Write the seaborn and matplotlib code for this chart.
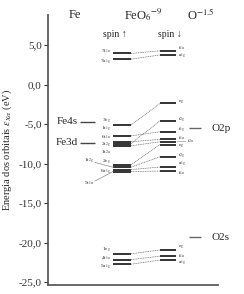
import matplotlib
matplotlib.use("Agg")
import matplotlib.pyplot as plt
import seaborn as sns
import pandas as pd
import numpy as np
from matplotlib.ticker import FuncFormatter

# ---------------- data ----------------
atomic_names = ["Fe4s", "Fe3d"]
atomic_E = [-4.7, -7.36]
oxygen_names = ["O2p", "O2s"]
oxygen_E = [-5.5, -19.3]

up_labels = ["7t$_{1u}$", "7a$_{1g}$",
             "3e$_g$", "1t$_{1g}$", "6t$_{1u}$", "2t$_{2g}$", "1t$_{2u}$",
             "2e$_g$", "1t$_{2g}$", "6a$_{1g}$", "5t$_{1u}$",
             "1e$_g$", "4t$_{1u}$", "5a$_{1g}$"]
up_E = [3.94, 3.22,
        -5.12, -6.49, -7.23, -7.46, -7.75,
        -10.15, -10.45, -10.75, -11.0,
        -21.4, -22.14, -22.72]

down_labels = ["t$_{1u}$", "a$_{1g}$",
               "e$_g$", "t$_{2g}$", "t$_{1g}$", "t$_{1u}$", "t$_{2u}$", "e$_g$",
               "t$_{2g}$", "a$_{1g}$", "t$_{1u}$",
               "e$_g$", "t$_{1u}$", "a$_{1g}$"]
down_E = [4.27, 3.75,
          -2.38, -4.59, -5.97, -6.93, -7.23, -7.59,
          -9.13, -10.43, -10.94,
          -20.92, -21.7, -22.2]

# connections: index of spin-up level -> index of spin-down level
links_up = [0, 1, 2, 3, 4, 5, 6, 7, 8, 9, 10, 11, 12, 13]
links_dn = [0, 1, 2, 4, 5, 3, 6, 7, 8, 9, 10, 11, 12, 13]

yticks = [5.0, 0.0, -5.0, -10.0, -15.0, -20.0, -25.0]

# ---------------- style ----------------
sns.set_theme(style="ticks")
plt.rcParams["font.family"] = ["Liberation Serif", "DejaVu Serif"]
plt.rcParams["mathtext.fontset"] = "stix"
plt.rcParams["axes.unicode_minus"] = False

fig = plt.figure(figsize=(2.44, 2.94), dpi=100)
ax = fig.add_axes([48 / 244, 1 - 285 / 294, 170 / 244, 270 / 294])
ax.set_xlim(0, 170)
ax.set_ylim(-25.35, 8.8)

# layout (x in axis units)
ATX = (32, 47)
UPX = (65, 83)
DNX = (112, 128)
OX = (141, 153)

lvl_col = "#333333"
# atomic Fe levels
ax.hlines(atomic_E, ATX[0], ATX[1], color="#444444", lw=1.0)
for n, e in zip(atomic_names, atomic_E):
    ax.text(ATX[0] - 2, e, n, ha="right", va="center", fontsize=8)
# oxygen levels
ax.hlines(oxygen_E, OX[0], OX[1], color="#666666", lw=1.0)
for n, e in zip(oxygen_names, oxygen_E):
    ax.text(OX[1] + 10, e, n, ha="left", va="center", fontsize=8)

# molecular levels
ax.hlines(up_E, UPX[0], UPX[1], color=lvl_col, lw=1.4)
ax.hlines(down_E, DNX[0], DNX[1], color=lvl_col, lw=1.4)

# dotted connectors
df = pd.DataFrame({"E_up": [up_E[i] for i in links_up],
                   "E_dn": [down_E[j] for j in links_dn]})
for _, r in df.iterrows():
    ax.plot([UPX[1], DNX[0]], [r["E_up"], r["E_dn"]], color="#666666",
            lw=0.5, linestyle=(0, (1.5, 1.0)))

# spin-up labels (label y offsets for crowded groups)
up_label_y = [4.25, 2.95,
              -4.6, -5.6, -6.6, -7.6, -8.6,
              -9.7, -9.6, -10.95, -12.45,
              -20.85, -21.95, -23.05]
up_label_x = [63, 63, 63, 63, 63, 63, 63, 63, 46, 63, 46, 63, 63, 63]
for lab, ly, lx in zip(up_labels, up_label_y, up_label_x):
    ax.text(lx, ly, lab, ha="right", va="center", fontsize=3.9)
# pointer lines for displaced labels
ax.plot([47, UPX[0]], [-9.85, up_E[8]], color="#888888", lw=0.5)
ax.plot([47, UPX[0]], [-12.2, up_E[10]], color="#888888", lw=0.5)

down_label_y = [4.6, 3.5,
                -2.2, -4.45, -5.75, -6.75, -7.2, -7.8,
                -9.0, -10.2, -11.2,
                -20.6, -21.65, -22.7]
down_label_x = [129.5] * 14
down_label_x[6] = 139
for lab, ly, lx in zip(down_labels, down_label_y, down_label_x):
    ax.text(lx, ly, lab, ha="left", va="center", fontsize=3.9)
ax.plot([129, 138], [-7.23, -7.2], color="#888888", lw=0.4)

# headers
ax.text(27, 8.8, "Fe", ha="center", va="center", fontsize=9, clip_on=False)
ax.text(95, 8.8, "FeO$_6$$^{-9}$", ha="center", va="center", fontsize=9, clip_on=False)
ax.text(153, 8.8, "O$^{-1.5}$", ha="center", va="center", fontsize=9, clip_on=False)
ax.text(67, 6.3, "spin \u2191", ha="center", va="center", fontsize=7)
ax.text(122, 6.3, "spin \u2193", ha="center", va="center", fontsize=7)

# axes
sns.despine(ax=ax, top=True, right=True)
ax.spines["left"].set_color("#555555")
ax.spines["bottom"].set_color("#555555")
ax.set_xticks([])
ax.set_yticks(yticks)
ax.yaxis.set_major_formatter(FuncFormatter(lambda v, p: f"{v:.1f}".replace(".", ",")))
ax.tick_params(axis="y", direction="out", length=3, width=0.8, labelsize=8,
               pad=1.5, colors="#333333")
ax.set_xlabel("")
ax.set_ylabel(r"Energia dos orbitais $\varepsilon_{X\alpha}$ (eV)", fontsize=7.5, labelpad=3)
ax.patch.set_alpha(0)

fig.savefig("out.png", dpi=100)
